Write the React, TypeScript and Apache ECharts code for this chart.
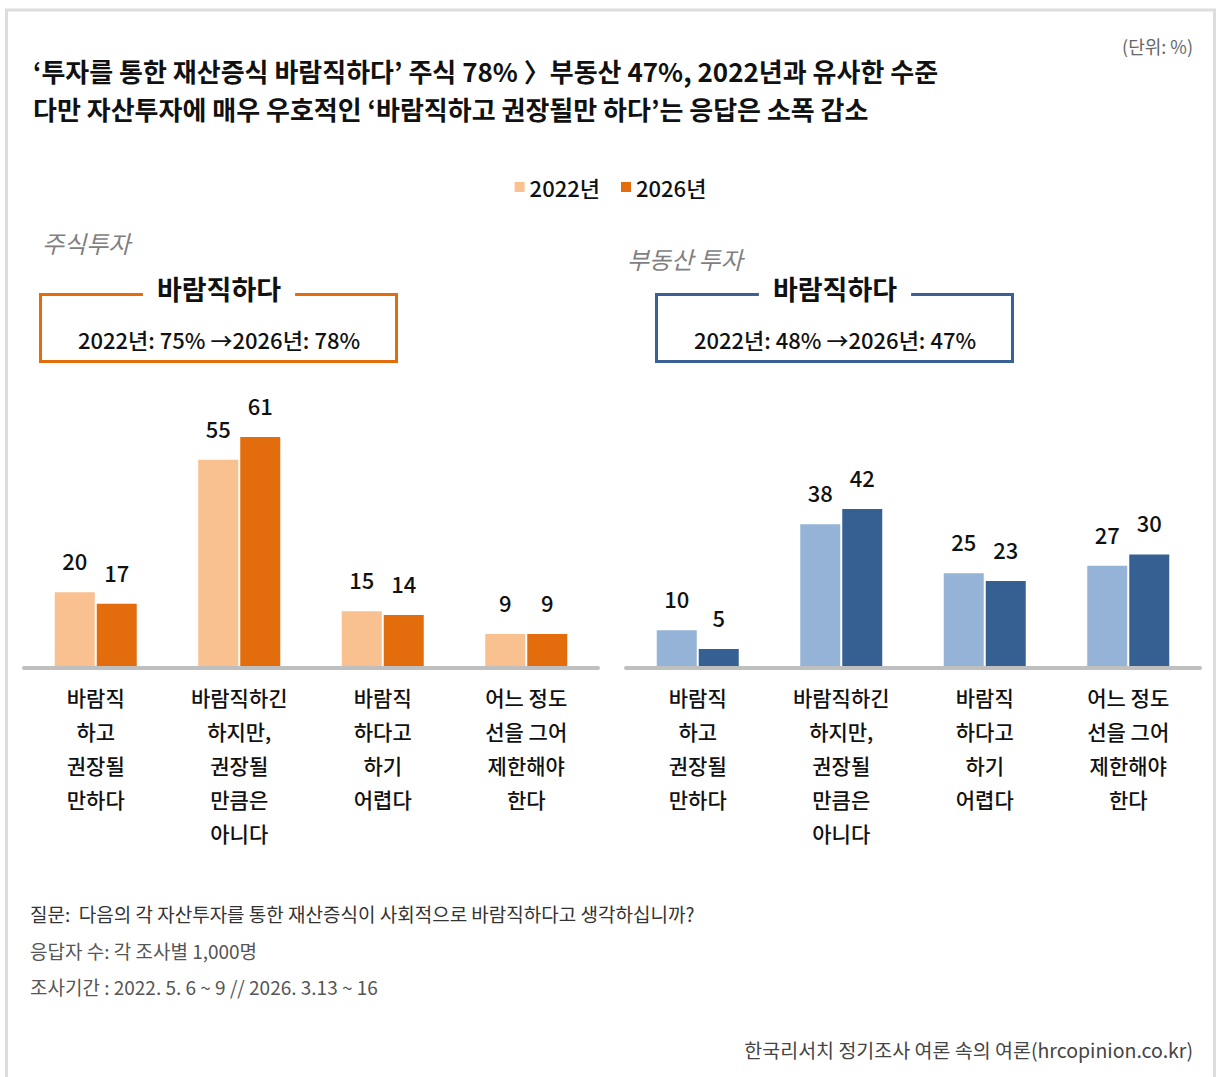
import React, { useEffect, useRef } from "react";
import * as echarts from "echarts";

const FONT = '"Noto Sans CJK KR", "Noto Sans", sans-serif';

const categories = [
  "바람직\n하고\n권장될\n만하다",
  "바람직하긴\n하지만,\n권장될\n만큼은\n아니다",
  "바람직\n하다고\n하기\n어렵다",
  "어느 정도\n선을 그어\n제한해야\n한다",
];
const legendNames = ["2022년", "2026년"];
const stock2022 = [20, 55, 15, 9];
const stock2026 = [17, 61, 14, 9];
const estate2022 = [10, 38, 25, 27];
const estate2026 = [5, 42, 23, 30];

const titleLines = [
  "‘투자를 통한 재산증식 바람직하다’ 주식 78% 〉부동산 47%, 2022년과 유사한 수준",
  "다만 자산투자에 매우 우호적인 ‘바람직하고 권장될만 하다’는 응답은 소폭 감소",
];
const unitText = "(단위: %)";
const panelTitles = ["주식투자", "부동산 투자"];
const boxTitle = "바람직하다";
const boxTexts = ["2022년: 75% →2026년: 78%", "2022년: 48% →2026년: 47%"];
const footerLines = [
  "질문:  다음의 각 자산투자를 통한 재산증식이 사회적으로 바람직하다고 생각하십니까?",
  "응답자 수: 각 조사별 1,000명",
  "조사기간 : 2022. 5. 6 ~ 9 // 2026. 3.13 ~ 16",
];
const sourceText = "한국리서치 정기조사 여론 속의 여론(hrcopinion.co.kr)";

const C_ORANGE_L = "#F9C090";
const C_ORANGE_D = "#E36C0C";
const C_BLUE_L = "#95B3D7";
const C_BLUE_D = "#366092";

export default function App() {
  const ref = useRef<HTMLDivElement>(null);
  useEffect(() => {
    if (!ref.current) return;
    const chart = echarts.init(ref.current, null, { renderer: "svg" });

    const grids = [
      { left: 24, width: 574, top: 403, height: 265 },
      { left: 626, width: 574, top: 403, height: 265 },
    ];
    const xAxes = grids.map((_, i) => ({
      type: "category",
      gridIndex: i,
      data: categories,
      z: 10,
      axisLine: { show: true, lineStyle: { color: "#bfbfbf", width: 4 } },
      axisTick: { show: false },
      axisLabel: {
        interval: 0,
        margin: 12,
        fontSize: 21,
        lineHeight: 34,
        color: "#111",
        fontWeight: 500,
        fontFamily: FONT,
      },
    }));
    const yAxes = grids.map((_, i) => ({
      type: "value",
      gridIndex: i,
      min: 0,
      max: 70,
      show: false,
      splitLine: { show: false },
    }));
    const label = {
      show: true,
      position: "top",
      distance: 21,
      fontSize: 22,
      color: "#111",
      fontWeight: 500,
      fontFamily: FONT,
    };
    const mk = (name: string, data: number[], color: string, idx: number) => ({
      type: "bar",
      name,
      data,
      xAxisIndex: idx,
      yAxisIndex: idx,
      barWidth: 40,
      barGap: "5%",
      itemStyle: { color },
      label,
    });

    const text = (
      x: number,
      y: number,
      t: string,
      size: number,
      opts: any = {}
    ) => ({
      type: "text",
      x,
      y,
      z: 20,
      style: {
        text: t,
        fontSize: size,
        fontFamily: FONT,
        fill: opts.fill || "#111",
        fontWeight: opts.weight || "normal",
        fontStyle: opts.style || "normal",
        align: opts.align || "left",
        verticalAlign: "middle",
        backgroundColor: opts.bg,
        padding: opts.padding,
      },
    });

    const graphic: any[] = [
      {
        type: "rect",
        shape: { x: 6.5, y: 10, width: 1208, height: 1100 },
        style: { fill: "none", stroke: "#dddddd", lineWidth: 3 },
        z: 1,
      },
      text(33, 70, titleLines[0], 26, { weight: "bold" }),
      text(33, 108, titleLines[1], 26, { weight: "bold" }),
      text(1193, 46, unitText, 18, { align: "right", fill: "#666" }),
      text(42, 242, panelTitles[0], 24, { style: "italic", fill: "#7f7f7f" }),
      text(627, 258, panelTitles[1], 24, { style: "italic", fill: "#7f7f7f" }),
      {
        type: "rect",
        shape: { x: 40.5, y: 294.5, width: 356, height: 67 },
        style: { fill: "none", stroke: C_ORANGE_D, lineWidth: 3 },
        z: 15,
      },
      {
        type: "rect",
        shape: { x: 656.5, y: 294.5, width: 356, height: 67 },
        style: { fill: "none", stroke: "#3A6196", lineWidth: 3 },
        z: 15,
      },
      text(219, 288, boxTitle, 27, {
        weight: "bold",
        align: "center",
        bg: "#fff",
        padding: [0, 14, 0, 14],
      }),
      text(835, 288, boxTitle, 27, {
        weight: "bold",
        align: "center",
        bg: "#fff",
        padding: [0, 14, 0, 14],
      }),
      text(219, 339, boxTexts[0], 22, { align: "center", weight: 500 }),
      text(835, 339, boxTexts[1], 22, { align: "center", weight: 500 }),
      text(30, 913, footerLines[0], 19, { fill: "#333" }),
      text(30, 950, footerLines[1], 19, { fill: "#555" }),
      text(30, 986, footerLines[2], 19, { fill: "#555" }),
      text(1193, 1049, sourceText, 19.5, { align: "right", fill: "#444" }),
    ];

    chart.setOption({
      animation: false,
      backgroundColor: "#fff",
      legend: {
        top: 171,
        left: "center",
        itemWidth: 10,
        itemHeight: 10,
        itemGap: 21,
        icon: "rect",
        textStyle: { fontSize: 22, color: "#111", fontFamily: FONT, fontWeight: 500 },
        data: [
          { name: legendNames[0], itemStyle: { color: C_ORANGE_L } },
          { name: legendNames[1], itemStyle: { color: C_ORANGE_D } },
        ],
        selectedMode: false,
      },
      grid: grids,
      xAxis: xAxes,
      yAxis: yAxes,
      series: [
        mk(legendNames[0], stock2022, C_ORANGE_L, 0),
        mk(legendNames[1], stock2026, C_ORANGE_D, 0),
        mk("부동산 " + legendNames[0], estate2022, C_BLUE_L, 1),
        mk("부동산 " + legendNames[1], estate2026, C_BLUE_D, 1),
      ],
      graphic,
    });
    return () => chart.dispose();
  }, []);
  return (
    <div
      ref={ref}
      style={{
        position: "absolute",
        left: 0,
        top: 0,
        width: 1221,
        height: 1077,
        background: "#fff",
      }}
    />
  );
}
